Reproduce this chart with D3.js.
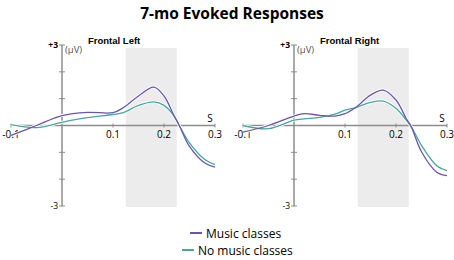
<!DOCTYPE html>
<html>
<head>
<meta charset="utf-8">
<script src="https://cdn.jsdelivr.net/npm/d3@7"></script>
<style>
  body { margin: 0; background: #fff; }
  svg { display: block; }
</style>
</head>
<body>
<div id="chart"></div>
<script>
const times = [-0.1, -0.05, 0, 0.05, 0.1, 0.12, 0.15, 0.18, 0.2, 0.22, 0.23, 0.25, 0.28, 0.3];
const leftMusic   = [-0.37, 0.0, 0.37, 0.49, 0.48, 0.66, 1.1, 1.43, 1.1, 0.35, 0.0, -0.78, -1.4, -1.55];
const leftNoMusic = [0.03, -0.08, 0.12, 0.29, 0.41, 0.48, 0.75, 0.88, 0.75, 0.35, 0.0, -0.65, -1.27, -1.46];
const rightTimes   = [-0.1, -0.05, 0, 0.02, 0.05, 0.08, 0.1, 0.12, 0.15, 0.175, 0.2, 0.22, 0.23, 0.25, 0.28, 0.3];
const rightMusic   = [-0.25, 0.0, 0.35, 0.44, 0.38, 0.35, 0.44, 0.66, 1.13, 1.32, 0.95, 0.26, -0.05, -0.98, -1.74, -1.87];
const rightNoMusic = [0.0, -0.12, 0.2, 0.25, 0.3, 0.42, 0.57, 0.66, 0.86, 0.91, 0.64, 0.2, -0.05, -0.74, -1.5, -1.68];
const xTicks = [-0.1, 0.1, 0.2, 0.3];
const yTicks = [-3, -2, -1, 0, 1, 2, 3];
const window_ = [0.125, 0.225];
const seriesNames = ['Music classes', 'No music classes'];
const colors = ['#6a55b0', '#45a89c'];

const width = 454, height = 260;
const svg = d3.select('#chart').append('svg').attr('width', width).attr('height', height);

svg.append('text')
  .attr('x', 232).attr('y', 19)
  .attr('text-anchor', 'middle')
  .style('font-family', '"Open Sans", sans-serif')
  .style('font-weight', 'bold')
  .style('font-size', '15.5px')
  .text('7-mo Evoked Responses');

function panel(zeroX, title, tms, a, b) {
  const x = d3.scaleLinear().domain([-0.1, 0.3]).range([zeroX - 51, zeroX + 153]);
  const y = d3.scaleLinear().domain([-3, 3]).range([206, 45]);
  const g = svg.append('g');

  g.append('rect')
    .attr('x', x(window_[0])).attr('width', x(window_[1]) - x(window_[0]))
    .attr('y', 48).attr('height', 207 - 48)
    .attr('fill', '#ececec');

  // y axis
  g.append('line').attr('x1', x(0)).attr('x2', x(0)).attr('y1', y(3)).attr('y2', y(-3))
    .attr('stroke', '#8c8c8c').attr('stroke-width', 1.5);
  g.selectAll('.yt').data(yTicks.filter(d => d !== 0)).enter().append('line')
    .attr('x1', d => x(0) - 3).attr('x2', d => x(0) + 3)
    .attr('y1', d => y(d)).attr('y2', d => y(d))
    .attr('stroke', '#8c8c8c').attr('stroke-width', 1);
  g.append('text').attr('x', x(0) - 4).attr('y', y(3) + 3).attr('text-anchor', 'end')
    .style('font-family', '"Open Sans", sans-serif').style('font-size', '8.5px').style('font-weight', 'bold').text('+3');
  g.append('text').attr('x', x(0) - 4).attr('y', y(-3) + 3).attr('text-anchor', 'end')
    .style('font-family', '"Open Sans", sans-serif').style('font-size', '8.5px').text('-3');
  g.append('text').attr('x', x(0) + 3).attr('y', y(3) + 8)
    .style('font-family', '"Open Sans", sans-serif').style('font-size', '9.5px').attr('fill', '#555').text('(µV)');

  // x axis
  g.append('line').attr('x1', x(-0.1)).attr('x2', x(0.3)).attr('y1', y(0)).attr('y2', y(0))
    .attr('stroke', '#8c8c8c').attr('stroke-width', 1.5);
  g.selectAll('.xt').data(xTicks).enter().append('line')
    .attr('x1', d => x(d)).attr('x2', d => x(d))
    .attr('y1', y(0) - 2).attr('y2', y(0) + 2)
    .attr('stroke', '#8c8c8c');
  g.selectAll('.xl').data(xTicks).enter().append('text')
    .attr('x', d => x(d)).attr('y', y(0) + 12)
    .attr('text-anchor', 'middle')
    .style('font-family', '"Open Sans", sans-serif').style('font-size', '10px')
    .text(d => d);
  g.append('text').attr('x', x(0.3) - 5).attr('y', y(0) - 4)
    .attr('text-anchor', 'middle')
    .style('font-family', '"Open Sans", sans-serif').style('font-size', '10px').text('S');

  g.append('text').attr('x', x(0) + 26).attr('y', 44)
    .style('font-family', '"Liberation Sans", Arial, sans-serif').style('font-weight', 'bold').style('font-size', '9.5px')
    .text(title);

  const line = d3.line().x(d => x(d[0])).y(d => y(d[1])).curve(d3.curveCatmullRom.alpha(0.5));
  [a, b].forEach(vals => {
    const pts = tms.map((t, k) => [t, vals[k]]);
    g.append('path').attr('d', line(pts)).attr('fill', 'none')
      .attr('stroke', '#fff').attr('stroke-width', 3);
  });
  [b, a].forEach((vals, i) => {
    const pts = tms.map((t, k) => [t, vals[k]]);
    g.append('path').attr('d', line(pts)).attr('fill', 'none')
      .attr('stroke', colors[1 - i]).attr('stroke-width', 1.3);
  });
}

panel(62, 'Frontal Left', times, leftMusic, leftNoMusic);
panel(294, 'Frontal Right', rightTimes, rightMusic, rightNoMusic);

// legend
const legend = svg.append('g');
const legendRows = [{ x: 190, y: 238 }, { x: 182, y: 255 }];
seriesNames.forEach((name, i) => {
  legend.append('line')
    .attr('x1', legendRows[i].x).attr('x2', legendRows[i].x + 12)
    .attr('y1', legendRows[i].y - 5).attr('y2', legendRows[i].y - 5)
    .attr('stroke', colors[i]).attr('stroke-width', 2);
  legend.append('text')
    .attr('x', legendRows[i].x + 16).attr('y', legendRows[i].y)
    .style('font-family', '"Open Sans", sans-serif').style('font-size', '12px')
    .text(name);
});
</script>
</body>
</html>
